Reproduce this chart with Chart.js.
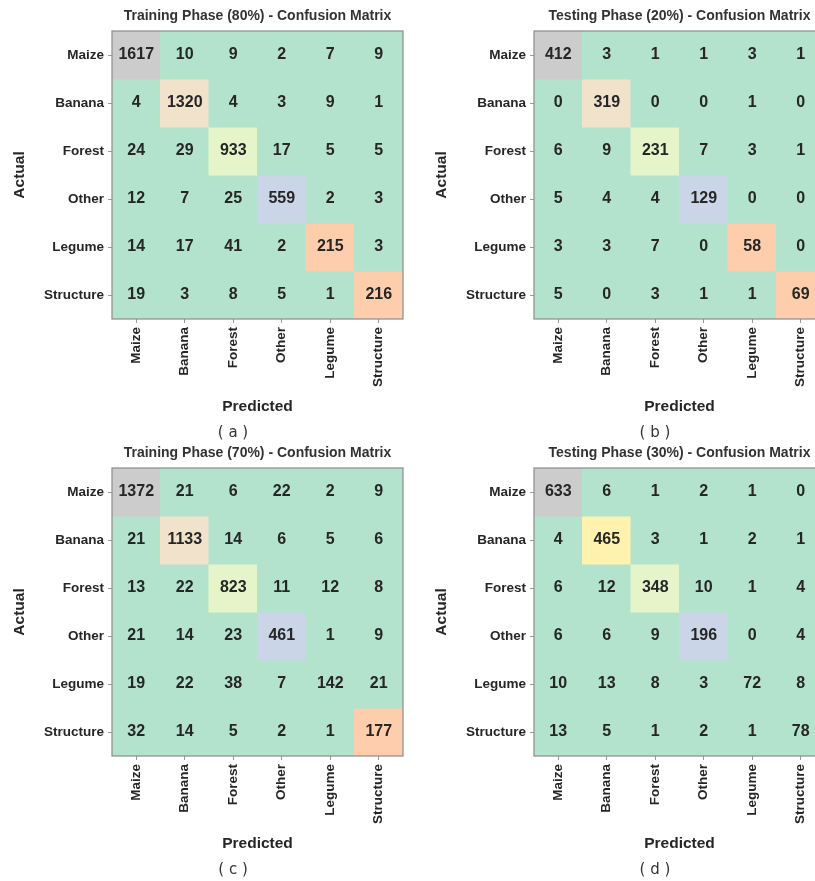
<!DOCTYPE html>
<html>
<head>
<meta charset="utf-8">
<script src="https://cdn.jsdelivr.net/npm/chart.js@4.4.1/dist/chart.umd.min.js"></script>
<style>
  html, body { margin: 0; padding: 0; background: #fff; overflow: hidden; }
  #wrap { position: relative; width: 815px; height: 881px; overflow: hidden; }
  canvas { position: absolute; }
</style>
</head>
<body>
<div id="wrap">
  <canvas id="cmA" width="410" height="440" style="left:0;top:0"></canvas>
  <canvas id="cmB" width="410" height="440" style="left:422px;top:0"></canvas>
  <canvas id="cmC" width="410" height="440" style="left:0;top:437px"></canvas>
  <canvas id="cmD" width="410" height="440" style="left:422px;top:437px"></canvas>
</div>
<script>
// Class names (rows = actual, columns = predicted)
const classes = ['Maize', 'Banana', 'Forest', 'Other', 'Legume', 'Structure'];

// Confusion matrices for the two splits
const train80 = [
  [1617, 10, 9, 2, 7, 9],
  [4, 1320, 4, 3, 9, 1],
  [24, 29, 933, 17, 5, 5],
  [12, 7, 25, 559, 2, 3],
  [14, 17, 41, 2, 215, 3],
  [19, 3, 8, 5, 1, 216]
];
const test20 = [
  [412, 3, 1, 1, 3, 1],
  [0, 319, 0, 0, 1, 0],
  [6, 9, 231, 7, 3, 1],
  [5, 4, 4, 129, 0, 0],
  [3, 3, 7, 0, 58, 0],
  [5, 0, 3, 1, 1, 69]
];
const train70 = [
  [1372, 21, 6, 22, 2, 9],
  [21, 1133, 14, 6, 5, 6],
  [13, 22, 823, 11, 12, 8],
  [21, 14, 23, 461, 1, 9],
  [19, 22, 38, 7, 142, 21],
  [32, 14, 5, 2, 1, 177]
];
const test30 = [
  [633, 6, 1, 2, 1, 0],
  [4, 465, 3, 1, 2, 1],
  [6, 12, 348, 10, 1, 4],
  [6, 6, 9, 196, 0, 4],
  [10, 13, 8, 3, 72, 8],
  [13, 5, 1, 2, 1, 78]
];

const panelTitles = [
  'Training Phase (80%) - Confusion Matrix',
  'Testing Phase (20%) - Confusion Matrix',
  'Training Phase (70%) - Confusion Matrix',
  'Testing Phase (30%) - Confusion Matrix'
];
const captions = ['( a )', '( b )', '( c )', '( d )'];

// Pastel2 qualitative palette used as an 8-step colour map
const pastel2 = ['#b3e2cd', '#fdcdac', '#cbd5e8', '#f4cae4', '#e6f5c9', '#fff2ae', '#f1e2cc', '#cccccc'];

function colourFor(v, lo, hi) {
  const t = (v - lo) / (hi - lo);
  const idx = Math.max(0, Math.min(pastel2.length - 1, Math.floor(t * pastel2.length)));
  return pastel2[idx];
}

const SANS = '"Liberation Sans", Arial, Helvetica, sans-serif';
const INK = '#262626';

// Writes the counts in each cell, frames the matrix and adds the panel caption
const cellText = {
  id: 'cellText',
  afterDatasetsDraw(chart, args, opts) {
    const { ctx, chartArea: a } = chart;
    ctx.save();
    ctx.strokeStyle = '#8c8c8c';
    ctx.lineWidth = 1.2;
    ctx.strokeRect(a.left, a.top, a.right - a.left, a.bottom - a.top);

    ctx.font = 'bold 16px ' + SANS;
    ctx.fillStyle = INK;
    ctx.textAlign = 'center';
    ctx.textBaseline = 'middle';
    chart.data.datasets.forEach((ds, di) => {
      chart.getDatasetMeta(di).data.forEach((el, j) => {
        const p = el.getProps(['x', 'y', 'base'], true);
        ctx.fillText(String(ds.data[j].v), p.x, (p.y + p.base) / 2);
      });
    });

    ctx.font = '15px "DejaVu Sans", sans-serif';
    ctx.fillStyle = '#333';
    ctx.fillText(opts.caption, (a.left + a.right) / 2 - 24.5, a.bottom + 114);
    ctx.restore();
  }
};

function buildMatrix(canvasId, matrix, title, caption) {
  const flat = matrix.flat();
  const lo = Math.min(...flat);
  const hi = Math.max(...flat);

  // one dataset per actual class; each cell is a floating bar spanning its row
  const datasets = matrix.map((row, i) => ({
    label: classes[i],
    data: row.map((v, j) => ({ x: classes[j], y: [i - 0.5, i + 0.5], v: v })),
    grouped: false,
    categoryPercentage: 1,
    barPercentage: 1,
    borderWidth: 0,
    inflateAmount: 0.5,
    backgroundColor: ctx => (ctx.raw ? colourFor(ctx.raw.v, lo, hi) : pastel2[0])
  }));

  const tickFont = { family: SANS, size: 13.5, weight: 'bold' };
  const axisTitleFont = { family: SANS, size: 15.5, weight: 'bold' };

  return new Chart(document.getElementById(canvasId), {
    type: 'bar',
    data: { labels: classes, datasets },
    plugins: [cellText],
    options: {
      responsive: false,
      animation: false,
      events: [],
      layout: { padding: { left: 0, right: 7, top: 0, bottom: 0 } },
      plugins: {
        legend: { display: false },
        tooltip: { enabled: false },
        title: {
          display: true,
          text: title,
          fullSize: false,
          color: '#333',
          font: { family: SANS, size: 14, weight: 'bold' },
          padding: { top: 7.6, bottom: 6.6 }
        },
        cellText: { caption }
      },
      scales: {
        x: {
          type: 'category',
          offset: true,
          afterFit: s => { s.height = 121; },
          ticks: {
            autoSkip: false, maxRotation: 90, minRotation: 90,
            padding: 4, color: INK, font: tickFont
          },
          grid: { offset: false, drawOnChartArea: false, drawTicks: true, tickLength: 4, color: '#9a9a9a' },
          border: { display: false },
          title: {
            display: true, text: 'Predicted', color: INK, font: axisTitleFont,
            padding: { top: 0, bottom: 23.7 }
          }
        },
        y: {
          type: 'linear',
          min: -0.5,
          max: 5.5,
          reverse: true,
          afterBuildTicks: s => { s.ticks = classes.map((_, i) => ({ value: i })); },
          afterFit: s => { s.width = 112; },
          ticks: {
            autoSkip: false, padding: 4, color: INK, font: tickFont,
            callback: v => classes[v]
          },
          grid: { drawOnChartArea: false, drawTicks: true, tickLength: 4, color: '#9a9a9a' },
          border: { display: false },
          title: {
            display: true, text: 'Actual', color: INK, font: axisTitleFont,
            padding: { top: 10.7, bottom: 0 }
          }
        }
      }
    }
  });
}

buildMatrix('cmA', train80, panelTitles[0], captions[0]);
buildMatrix('cmB', test20, panelTitles[1], captions[1]);
buildMatrix('cmC', train70, panelTitles[2], captions[2]);
buildMatrix('cmD', test30, panelTitles[3], captions[3]);
</script>
</body>
</html>
